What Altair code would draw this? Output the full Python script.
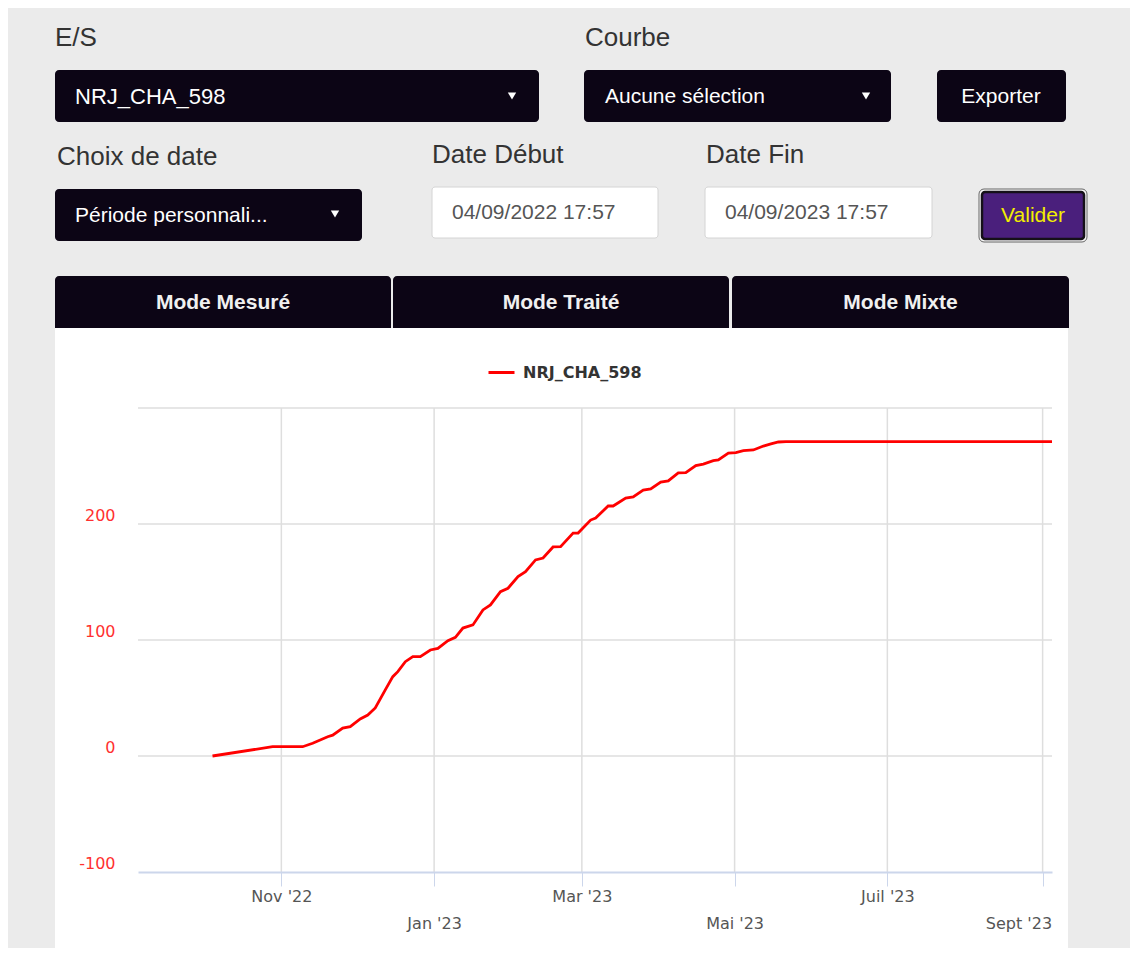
import altair as alt
import pandas as pd

# ---------------- data ----------------
series_name = "NRJ_CHA_598"
dates = [
    "2022-10-04T12:00", "2022-10-28T12:00", "2022-11-09T12:00", "2022-11-13T12:00",
    "2022-11-19T12:00", "2022-11-21T12:00", "2022-11-25T12:00", "2022-11-28T12:00",
    "2022-12-02T12:00", "2022-12-05T12:00", "2022-12-08T12:00", "2022-12-12T12:00",
    "2022-12-15T12:00", "2022-12-17T12:00", "2022-12-20T12:00", "2022-12-23T12:00",
    "2022-12-26T12:00", "2022-12-30T12:00", "2023-01-02T12:00", "2023-01-06T12:00",
    "2023-01-09T12:00", "2023-01-12T12:00", "2023-01-16T12:00", "2023-01-20T12:00",
    "2023-01-23T12:00", "2023-01-27T12:00", "2023-01-30T12:00", "2023-02-03T12:00",
    "2023-02-06T12:00", "2023-02-10T12:00", "2023-02-13T12:00", "2023-02-17T12:00",
    "2023-02-20T12:00", "2023-02-25T12:00", "2023-02-27T12:00", "2023-03-04T12:00",
    "2023-03-06T12:00", "2023-03-11T12:00", "2023-03-13T12:00", "2023-03-18T12:00",
    "2023-03-21T12:00", "2023-03-25T12:00", "2023-03-28T12:00", "2023-04-01T12:00",
    "2023-04-04T12:00", "2023-04-08T12:00", "2023-04-11T12:00", "2023-04-15T12:00",
    "2023-04-18T12:00", "2023-04-22T12:00", "2023-04-24T12:00", "2023-04-28T12:00",
    "2023-05-01T12:00", "2023-05-04T12:00", "2023-05-08T12:00", "2023-05-12T12:00",
    "2023-05-15T12:00", "2023-05-18T12:00", "2023-05-21T12:00", "2023-09-04T17:57",
]
values = [
    0, 8, 8, 11, 16.6, 18, 24, 25.3, 32, 35.3, 41.4, 57, 68.4, 72.7, 81.3, 85.6,
    85.6, 91.4, 92.8, 99.4, 102.3, 110.3, 113, 125.9, 130.2, 141.6, 144.6, 154.6,
    158.9, 169, 170.7, 180.2, 180.4, 192.2, 192.2, 203.4, 205.2, 215.5, 215.5,
    222.4, 223.3, 229.3, 230.2, 236.2, 237.1, 244, 244.2, 250.3, 251.7, 254.6,
    255.2, 261.2, 261.5, 263.2, 263.8, 267.2, 269, 270.7, 271, 271,
]
x_tick_dates = ["2022-11-01", "2023-01-01", "2023-03-01", "2023-05-01", "2023-07-01", "2023-09-01"]
x_tick_labels = ["Nov '22", "Jan '23", "Mar '23", "Mai '23", "Juil '23", "Sept '23"]
y_ticks = [-100, 0, 100, 200, 300]
y_grid = [0, 100, 200, 300]
domain_start = (2022, 9, 4, 17, 57)
domain_end = (2023, 9, 4, 17, 57)

# UI texts
es_label, courbe_label, choix_label = "E/S", "Courbe", "Choix de date"
debut_label, fin_label = "Date Début", "Date Fin"
courbe_value, choix_value = "Aucune sélection", "Période personnali..."
export_label, valider_label = "Exporter", "Valider"
date_debut, date_fin = "04/09/2022 17:57", "04/09/2023 17:57"
mode_labels = ["Mode Mesuré", "Mode Traité", "Mode Mixte"]

# ---------------- layout helpers ----------------
W, H = 914, 464          # plot area
OX, OY = 138, 408        # page position of plot origin
one = pd.DataFrame({"k": [0]})
DARK = "#0c0515"
UI_FONT = "Liberation Sans"
CH_FONT = "DejaVu Sans"


def rect(x0, y0, x1, y1, **kw):
    return alt.Chart(one).mark_rect(**kw).encode(
        x=alt.value(x0 - OX), x2=alt.value(x1 - OX),
        y=alt.value(y0 - OY), y2=alt.value(y1 - OY))


def text(s, X, Y, size, color, align="left", weight="normal", font=UI_FONT):
    return alt.Chart(one).mark_text(
        text=s, align=align, baseline="middle", fontSize=size, color=color,
        font=font, fontWeight=weight).encode(x=alt.value(X - OX), y=alt.value(Y - OY))


def caret(X, Y):
    return alt.Chart(one).mark_point(
        shape="triangle-down", filled=True, color="white", size=70, opacity=1).encode(
        x=alt.value(X - OX), y=alt.value(Y - OY))


def dt(s):
    y, m, d = [int(v) for v in s.split("-")]
    return alt.DateTime(year=y, month=m, date=d)


def label_expr(idx):
    parts = []
    for i in idx:
        y, m, _ = [int(v) for v in x_tick_dates[i].split("-")]
        parts.append(f"(year(datum.value)=={y} && month(datum.value)=={m-1}) ? \"{x_tick_labels[i]}\" : ")
    return "".join(parts) + "''"


odd_idx = [0, 2, 4]
even_idx = [1, 3, 5]
last_y, last_m, _ = [int(v) for v in x_tick_dates[-1].split("-")]
last_test = f"year(datum.value)=={last_y} && month(datum.value)=={last_m - 1}"

x_scale = alt.Scale(
    domain=[alt.DateTime(year=domain_start[0], month=domain_start[1], date=domain_start[2],
                         hours=domain_start[3], minutes=domain_start[4]),
            alt.DateTime(year=domain_end[0], month=domain_end[1], date=domain_end[2],
                         hours=domain_end[3], minutes=domain_end[4])],
    nice=False)
y_scale = alt.Scale(domain=[-100, 300], nice=False, zero=False)

axis_common = dict(orient="bottom", grid=False, labelFont=CH_FONT, labelFontSize=16,
                   labelColor="#555", labelBaseline="top", labelOverlap=False,
                   title=None, zindex=1, tickSize=14)
x_axis1 = alt.Axis(values=[dt(x_tick_dates[i]) for i in range(len(x_tick_dates))],
                   labelExpr=label_expr(odd_idx), domain=True, domainColor="#ccd6eb",
                   domainWidth=2, ticks=True, tickColor="#ccd6eb", tickWidth=1,
                   labelPadding=2, labelAlign="center", **axis_common)
x_axis2 = alt.Axis(values=[dt(x_tick_dates[i]) for i in even_idx],
                   labelExpr=label_expr(even_idx), domain=False, ticks=True, tickOpacity=0,
                   labelPadding=29,
                   labelAlign={"condition": {"test": last_test, "value": "right"}, "value": "center"},
                   labelOffset={"condition": {"test": last_test, "value": 9}, "value": 0},
                   **axis_common)
y_axis = alt.Axis(values=y_ticks, labelExpr="datum.value == 300 ? '' : '' + datum.value",
                  orient="left", grid=False, domain=False, ticks=False, labelColor="#ff3030",
                  labelFont=CH_FONT, labelFontSize=16, labelPadding=23,
                  labelBaseline="alphabetic", labelOffset=-4, title=None, zindex=1)

# ---------------- UI layers ----------------
ui = [
    rect(55, 328, 1068, 980, fill="white"),
    text(es_label, 55, 38, 26, "#333"),
    text(courbe_label, 585, 38, 26, "#333"),
    rect(55, 70, 539, 122, fill=DARK, cornerRadius=4),
    text(series_name, 75, 97, 22, "white"),
    caret(512, 96),
    rect(584, 70, 891, 122, fill=DARK, cornerRadius=4),
    text(courbe_value, 605, 97, 21, "white"),
    caret(866, 96),
    rect(937, 70, 1066, 122, fill=DARK, cornerRadius=4),
    text(export_label, 1001, 97, 21, "white", align="center"),
    text(choix_label, 57, 157, 26, "#333"),
    text(debut_label, 432, 155, 26, "#333"),
    text(fin_label, 706, 155, 26, "#333"),
    rect(55, 189, 362, 241, fill=DARK, cornerRadius=4),
    text(choix_value, 75, 216, 21, "white"),
    caret(335, 214),
    rect(432, 187, 658, 238, fill="white", stroke="#d4d4d4", strokeWidth=1, cornerRadius=3),
    text(date_debut, 452, 213, 21, "#555"),
    rect(705, 187, 932, 238, fill="white", stroke="#d4d4d4", strokeWidth=1, cornerRadius=3),
    text(date_fin, 725, 213, 21, "#555"),
    rect(979, 189, 1087, 242, fill="#f4f4f4", stroke="#666", strokeWidth=1, cornerRadius=5),
    rect(982, 192, 1084, 239, fill="#4a1f7c", stroke="#151018", strokeWidth=2.5, cornerRadius=3),
    text(valider_label, 1033, 216, 21, "#f2ee00", align="center"),
]
mode_x = [(55, 391), (393, 729), (732, 1069)]
for (a, b), lab in zip(mode_x, mode_labels):
    ui.append(rect(a, 276, b, 328, fill=DARK, cornerRadiusTopLeft=4, cornerRadiusTopRight=4))
    ui.append(text(lab, (a + b) / 2, 303, 21, "#f0f0f0", align="center", weight="bold"))

# ---------------- chart layers ----------------
df = pd.DataFrame({"date": dates, "value": values, "serie": [series_name] * len(dates)})
xgrid_df = pd.DataFrame({"date": [d + "T00:00" for d in x_tick_dates]})
ygrid_df = pd.DataFrame({"v": y_grid})

xgrid = alt.Chart(xgrid_df).mark_rule(color="#dedede", strokeWidth=1.5).encode(
    x=alt.X("date:T", scale=x_scale, axis=x_axis1))
ygrid = alt.Chart(ygrid_df).mark_rule(color="#dedede", strokeWidth=1.5).encode(
    y=alt.Y("v:Q", scale=y_scale, axis=y_axis))
line = alt.Chart(df).mark_line(strokeWidth=2.8, interpolate="linear").encode(
    x=alt.X("date:T", scale=x_scale, axis=x_axis2),
    y=alt.Y("value:Q", scale=y_scale, axis=None),
    color=alt.Color("serie:N", scale=alt.Scale(domain=[series_name], range=["#ff0000"]),
                    legend=alt.Legend(orient="none", legendX=349, legendY=-50, title=None,
                                      symbolType="stroke", symbolSize=676,
                                      symbolStrokeWidth=3, padding=0, labelOffset=7,
                                      labelFont=CH_FONT, labelFontSize=16,
                                      labelFontWeight="bold", labelColor="#333")),
)

chart = alt.layer(*ui, xgrid, ygrid, line).resolve_axis(
    x="independent", y="independent").properties(
    width=W, height=H,
    padding={"left": 130, "top": 400, "right": 78, "bottom": 76},
    autosize=alt.AutoSizeParams(type="none"),
    background="#ebebeb",
).configure_view(stroke=None)

chart.save("out.html", embed_options={"renderer": "svg", "actions": False})
